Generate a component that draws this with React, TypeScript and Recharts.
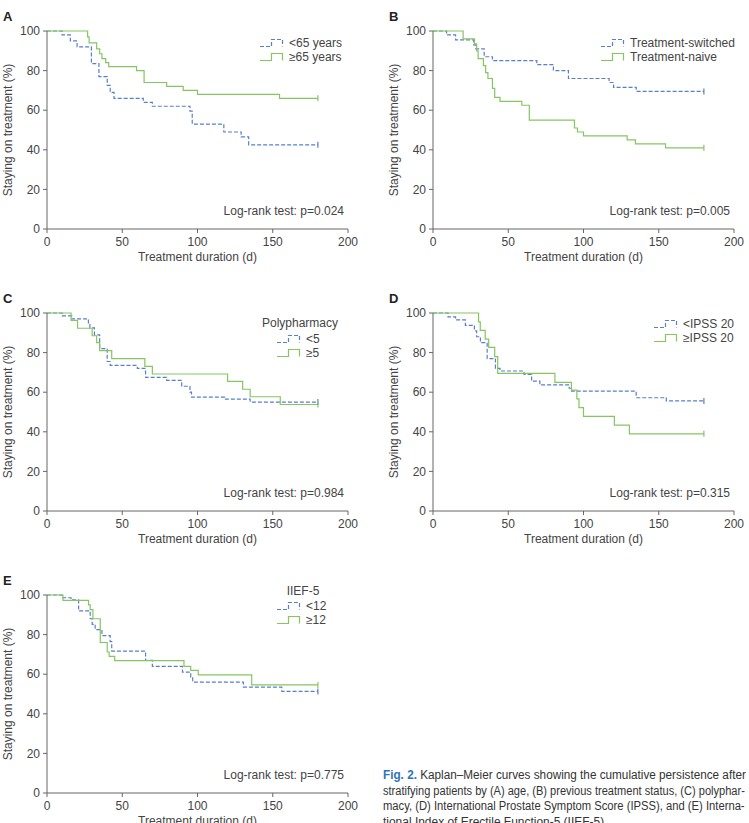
import { useLayoutEffect, useRef, useState, type ReactNode } from "react";
import { Label, Line, LineChart, XAxis, YAxis } from "recharts";

// [day, % still on treatment] — each point starts a new step
type Step = [number, number];

const dayTicks = [0, 50, 100, 150, 200];
const pctTicks = [0, 20, 40, 60, 80, 100];

const ageUnder65: Step[] = [
	[0, 100], [10, 98], [15.5, 95], [20, 92], [29.5, 83.5], [34.5, 77], [40, 72.5],
	[42, 69], [44.5, 66], [64, 64], [70, 62], [95, 59.5], [96.5, 53], [117.5, 49],
	[129, 46.5], [134, 42.5], [180, 42.5],
];
const age65Plus: Step[] = [
	[0, 100], [27, 97], [28, 94], [33, 91], [35, 88.5], [36.5, 86], [39, 84], [41, 82],
	[59.5, 80], [64.5, 74], [79.5, 72], [90.5, 70], [100, 68], [154.5, 66], [180, 66],
];

const switched: Step[] = [
	[0, 100], [9, 98], [15, 95.5], [27, 93], [28.5, 91], [34, 87], [39.5, 85], [69, 83],
	[80, 80], [90, 76], [117, 74], [120, 71.5], [135, 69.5], [180, 69.5],
];
const naive: Step[] = [
	[0, 100], [20, 96], [27.5, 93.5], [29, 90], [30, 86], [33.5, 82.5], [35, 79],
	[36.5, 76], [39.5, 71], [41, 66.5], [44.5, 64.5], [59, 62.5], [64, 55], [94, 51],
	[96, 49], [100, 47], [129, 45], [134.5, 43], [154.5, 41], [180, 41],
];

const drugsUnder5: Step[] = [
	[0, 100], [10, 98.5], [16.5, 97], [27.5, 95], [28.5, 92.5], [31.5, 89], [35, 82],
	[40, 75.5], [42, 73.5], [60, 72], [65.5, 67.5], [79.5, 66], [89.5, 63], [95, 60],
	[96, 57.5], [118, 56.5], [135, 55], [180, 55],
];
const drugs5Plus: Step[] = [
	[0, 100], [16, 96.3], [20.3, 92.3], [30, 88.5], [33, 85], [35, 81], [43, 77],
	[65, 73], [70, 69.2], [120, 65.5], [130, 61.5], [135, 57.7], [155, 53.8], [180, 53.8],
];

const ipssUnder20: Step[] = [
	[0, 100], [10, 98], [15, 96.5], [21.5, 93.8], [27.5, 91], [29, 88], [31.5, 85],
	[36, 77], [41.5, 72], [44.5, 70.7], [60.5, 69], [65.5, 65.6], [71, 63.7], [90.5, 62],
	[92, 60.5], [135, 57.2], [155, 55.6], [180, 55.6],
];
const ipss20Plus: Step[] = [
	[0, 100], [30.3, 95.5], [31.4, 91.2], [34.7, 86.8], [37, 82.6], [41, 78], [43, 69.5],
	[81, 65], [92, 61], [95.6, 56.6], [97, 52.2], [100, 47.8], [120.5, 43.4], [130.5, 39],
	[180, 39],
];

const iiefUnder12: Step[] = [
	[0, 100], [10, 98.6], [16, 97.5], [21, 92], [28.7, 88], [30, 85.2], [32, 82.5],
	[36.5, 79.5], [42, 76.5], [43, 71.7], [65.5, 67], [70, 64], [90, 61], [95.5, 58.5],
	[96.8, 56], [130.5, 53.5], [156, 51.3], [180, 51.3],
];
const iief12Plus: Step[] = [
	[0, 100], [10.6, 97.3], [27.6, 95], [28.7, 92.6], [30.5, 88], [35.4, 76], [40, 71.2],
	[41.3, 69], [45, 66.9], [91, 64], [95.5, 61.9], [100.5, 59.7], [136, 54.6], [180, 54.6],
];

const captionLines = [
	"Kaplan–Meier curves showing the cumulative persistence after",
	"stratifying patients by (A) age, (B) previous treatment status, (C) polyphar-",
	"macy, (D) International Prostate Symptom Score (IPSS), and (E) Interna-",
	"tional Index of Erectile Function-5 (IIEF-5).",
];
// set widths of the caption lines; the last one is not justified
const captionWidths = [363, 362, 362, 224];

const BLUE = "#5a7fc9";
const GREEN = "#86c561";
const INK = "#444";
const AXIS = "#666";
const FONT = '"Liberation Sans", Arial, sans-serif';

const CHART_W = 375;
const CHART_H = 265;
const PLOT = { left: 47, top: 31, width: 301, height: 198 };

const toRows = (steps: Step[]) => steps.map(([t, s]) => ({ t, s }));

// "+" tick on the last (censored) point of a curve
const censorDot = (lastIndex: number, color: string) => (p: any) => {
	if (p.index !== lastIndex) return <g key={`d-${p.index}`} />;
	return (
		<line
			key={`d-${p.index}`}
			x1={p.cx}
			x2={p.cx}
			y1={p.cy - 3}
			y2={p.cy + 3}
			stroke={color}
			strokeWidth={1.2}
		/>
	);
};

const yTitle = () => {
	const cx = 8;
	const cy = PLOT.top + PLOT.height / 2;
	return (
		<text
			x={cx}
			y={cy}
			transform={`rotate(-90 ${cx} ${cy})`}
			textAnchor="middle"
			dominantBaseline="central"
			fill={INK}
			fontSize={12}
		>
			Staying on treatment (%)
		</text>
	);
};

const xTitle = () => (
	<text
		x={PLOT.left + PLOT.width / 2}
		y={PLOT.top + PLOT.height + 28}
		textAnchor="middle"
		dominantBaseline="central"
		fill={INK}
		fontSize={12}
	>
		Treatment duration (d)
	</text>
);

const StepSymbol = ({ color, dashed }: { color: string; dashed: boolean }) => (
	<svg width={25} height={10} style={{ display: "block" }}>
		<path
			d="M1,8.5 H12.5 V1.5 H23.5 V8.5"
			fill="none"
			stroke={color}
			strokeWidth={1.2}
			strokeDasharray={dashed ? "4 2" : undefined}
		/>
	</svg>
);

interface PanelProps {
	letter: string;
	left: number;
	top: number;
	blue: Step[];
	green: Step[];
	blueName: string;
	greenName: string;
	legendTitle?: string;
	titleX?: number;
	titleY?: number;
	legendX: number;
	legendY: number;
	pValue: string;
}

const Panel = (props: PanelProps) => {
	const blueRows = toRows(props.blue);
	const greenRows = toRows(props.green);
	const rows = [
		{ name: props.blueName, color: BLUE, dashed: true },
		{ name: props.greenName, color: GREEN, dashed: false },
	];

	return (
		<div
			style={{
				position: "absolute",
				left: props.left,
				top: props.top,
				width: CHART_W,
				height: CHART_H,
				fontFamily: FONT,
				color: INK,
			}}
		>
			<LineChart
				width={CHART_W}
				height={CHART_H}
				margin={{ top: PLOT.top, right: 27, bottom: 6, left: 12 }}
				style={{ fontFamily: FONT }}
			>
				<XAxis
					dataKey="t"
					type="number"
					domain={[0, 200]}
					ticks={dayTicks}
					height={30}
					stroke={AXIS}
					tickSize={4}
					tickMargin={4}
					tick={{ fill: INK, fontSize: 12 }}
					label={<Label content={xTitle} />}
				/>
				<YAxis
					type="number"
					domain={[0, 100]}
					ticks={pctTicks}
					width={35}
					stroke={AXIS}
					tickSize={4}
					tickMargin={3}
					tick={{ fill: INK, fontSize: 12 }}
					label={<Label content={yTitle} />}
				/>
				<Line
					data={blueRows}
					dataKey="s"
					type="stepAfter"
					stroke={BLUE}
					strokeWidth={1.2}
					strokeDasharray="4 2"
					dot={censorDot(blueRows.length - 1, BLUE)}
					activeDot={false}
					isAnimationActive={false}
				/>
				<Line
					data={greenRows}
					dataKey="s"
					type="stepAfter"
					stroke={GREEN}
					strokeWidth={1.2}
					dot={censorDot(greenRows.length - 1, GREEN)}
					activeDot={false}
					isAnimationActive={false}
				/>
			</LineChart>

			<div
				style={{
					position: "absolute",
					left: 3,
					top: PLOT.top - 22,
					fontSize: 13,
					fontWeight: "bold",
					color: "#222",
				}}
			>
				{props.letter}
			</div>

			{props.legendTitle && (
				<div
					style={{
						position: "absolute",
						left: (props.titleX ?? 0) - 60,
						width: 120,
						top: (props.titleY ?? 0) - 7,
						lineHeight: "14px",
						fontSize: 12,
						textAlign: "center",
					}}
				>
					{props.legendTitle}
				</div>
			)}

			{rows.map((r, i) => (
				<div
					key={r.name}
					style={{
						position: "absolute",
						left: props.legendX,
						top: props.legendY + i * 13.5 - 7,
						height: 14,
						display: "flex",
						alignItems: "center",
						fontSize: 12,
						lineHeight: "14px",
						whiteSpace: "nowrap",
					}}
				>
					<StepSymbol color={r.color} dashed={r.dashed} />
					<span style={{ marginLeft: 5 }}>{r.name}</span>
				</div>
			))}

			<div
				style={{
					position: "absolute",
					right: CHART_W - 344,
					top: 211 - 7,
					lineHeight: "14px",
					fontSize: 12,
					whiteSpace: "nowrap",
				}}
			>
				Log-rank test: p={props.pValue}
			</div>
		</div>
	);
};

// one caption line, squeezed horizontally to its set width (narrow-face look)
const CaptionLine = ({ width, top, children }: { width: number; top: number; children: ReactNode }) => {
	const ref = useRef<HTMLSpanElement>(null);
	const [scale, setScale] = useState(1);

	useLayoutEffect(() => {
		const w = ref.current?.offsetWidth ?? 0;
		if (w > 0) setScale(width / w);
	}, [width]);

	return (
		<span
			ref={ref}
			style={{
				position: "absolute",
				left: 0,
				top,
				whiteSpace: "nowrap",
				lineHeight: "16px",
				transform: `scaleX(${scale})`,
				transformOrigin: "0 0",
			}}
		>
			{children}
		</span>
	);
};

const Caption = () => (
	<div
		style={{
			position: "absolute",
			left: 383,
			top: 767,
			width: 366,
			height: 60,
			fontFamily: FONT,
			fontSize: 12,
			color: "#333",
		}}
	>
		{captionLines.map((line, i) => (
			<CaptionLine key={i} width={captionWidths[i]} top={i * 15.7}>
				{i === 0 && <b style={{ color: "#2f73b6" }}>Fig. 2. </b>}
				{line}
			</CaptionLine>
		))}
	</div>
);

export default function App() {
	return (
		<div
			style={{
				position: "absolute",
				left: 0,
				top: 0,
				width: 749,
				height: 823,
				overflow: "hidden",
				background: "#fff",
			}}
		>
			<Panel
				letter="A"
				left={0}
				top={0}
				blue={ageUnder65}
				green={age65Plus}
				blueName="<65 years"
				greenName="≥65 years"
				legendX={259}
				legendY={43}
				pValue="0.024"
			/>
			<Panel
				letter="B"
				left={386}
				top={0}
				blue={switched}
				green={naive}
				blueName="Treatment-switched"
				greenName="Treatment-naive"
				legendX={214}
				legendY={43}
				pValue="0.005"
			/>
			<Panel
				letter="C"
				left={0}
				top={282}
				blue={drugsUnder5}
				green={drugs5Plus}
				blueName="<5"
				greenName="≥5"
				legendTitle="Polypharmacy"
				titleX={300}
				titleY={41}
				legendX={276}
				legendY={57}
				pValue="0.984"
			/>
			<Panel
				letter="D"
				left={386}
				top={282}
				blue={ipssUnder20}
				green={ipss20Plus}
				blueName="<IPSS 20"
				greenName="≥IPSS 20"
				legendX={267}
				legendY={42}
				pValue="0.315"
			/>
			<Panel
				letter="E"
				left={0}
				top={564}
				blue={iiefUnder12}
				green={iief12Plus}
				blueName="<12"
				greenName="≥12"
				legendTitle="IIEF-5"
				titleX={303}
				titleY={27}
				legendX={276}
				legendY={42}
				pValue="0.775"
			/>
			<Caption />
		</div>
	);
}
